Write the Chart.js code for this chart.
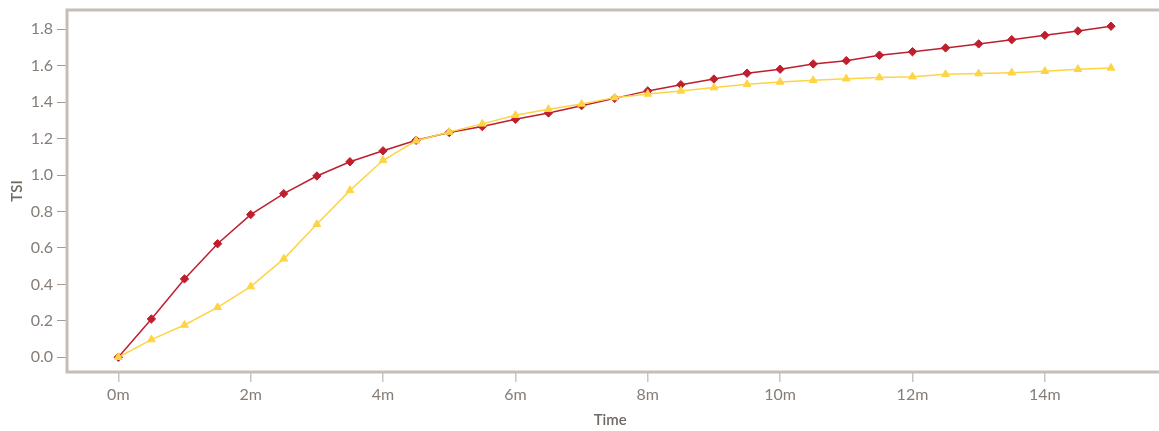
<!DOCTYPE html>
<html>
<head>
<meta charset="utf-8">
<script src="https://cdn.jsdelivr.net/npm/chart.js@4"></script>
<style>
  html, body { margin: 0; padding: 0; background: #ffffff; }
  #wrap { width: 1159px; height: 431px; }
</style>
</head>
<body>
<div id="wrap"><canvas id="c" width="1159" height="431"></canvas></div>
<script>
// ---- data ----
const times = [0, 0.5, 1, 1.5, 2, 2.5, 3, 3.5, 4, 4.5, 5, 5.5, 6, 6.5, 7, 7.5, 8, 8.5, 9, 9.5, 10, 10.5, 11, 11.5, 12, 12.5, 13, 13.5, 14, 14.5, 15];
const redSeries = [0, 0.21, 0.43, 0.623, 0.783, 0.898, 0.995, 1.073, 1.133, 1.191, 1.234, 1.266, 1.306, 1.341, 1.381, 1.421, 1.462, 1.496, 1.527, 1.559, 1.581, 1.610, 1.628, 1.658, 1.677, 1.698, 1.720, 1.743, 1.767, 1.791, 1.817];
const yellowSeries = [0, 0.097, 0.177, 0.274, 0.388, 0.540, 0.730, 0.916, 1.081, 1.188, 1.236, 1.281, 1.328, 1.361, 1.390, 1.425, 1.445, 1.462, 1.480, 1.498, 1.511, 1.520, 1.529, 1.535, 1.540, 1.553, 1.557, 1.562, 1.570, 1.581, 1.588];
const xTickValues = [0, 2, 4, 6, 8, 10, 12, 14];
const yTickValues = [0, 0.2, 0.4, 0.6, 0.8, 1.0, 1.2, 1.4, 1.6, 1.8];
const xTitle = 'Time';
const yTitle = 'TSI';

const RED = '#be1e2d';
const YELLOW = '#fdd446';
const BORDER = '#c6bdb6';
const TICK_TEXT = '#857d77';
const TITLE_TEXT = '#6f6863';

const toPts = arr => arr.map((v, i) => ({ x: times[i], y: v }));

const zeroPad = s => { s.paddingTop = 0; s.paddingBottom = 0; s.paddingLeft = 0; s.paddingRight = 0; };

const frame = {
  id: 'frame',
  beforeDatasetsDraw(chart) {
    const { ctx, chartArea: a } = chart;
    ctx.save();
    ctx.strokeStyle = BORDER;
    ctx.lineWidth = 3;
    ctx.beginPath();
    ctx.moveTo(chart.width + 2, a.top);
    ctx.lineTo(a.left, a.top);
    ctx.lineTo(a.left, a.bottom);
    ctx.lineTo(chart.width + 2, a.bottom);
    ctx.stroke();
    ctx.restore();
  }
};

new Chart(document.getElementById('c'), {
  type: 'line',
  data: {
    datasets: [
      {
        label: 'Yellow',
        data: toPts(yellowSeries),
        borderColor: YELLOW,
        backgroundColor: YELLOW,
        borderWidth: 1.5,
        pointStyle: 'triangle',
        pointRadius: 4.5,
        pointBorderWidth: 1,
        pointBorderColor: YELLOW,
        pointBackgroundColor: YELLOW,
        tension: 0,
        fill: false,
        clip: false
      },
      {
        label: 'Red',
        data: toPts(redSeries),
        borderColor: RED,
        backgroundColor: RED,
        borderWidth: 1.5,
        pointStyle: 'rectRot',
        pointRadius: 4.2,
        pointBorderWidth: 1,
        pointBorderColor: RED,
        pointBackgroundColor: RED,
        tension: 0,
        fill: false,
        clip: false
      }
    ]
  },
  options: {
    responsive: false,
    animation: false,
    devicePixelRatio: 1,
    layout: { padding: { top: 10, right: 0, bottom: 0, left: 0 } },
    plugins: {
      legend: { display: false },
      tooltip: { enabled: false }
    },
    scales: {
      x: {
        type: 'linear',
        min: -0.7755,
        max: 15.642,
        afterFit: s => { s.height = 59; zeroPad(s); },
        afterBuildTicks: axis => { axis.ticks = xTickValues.map(v => ({ value: v })); },
        border: { display: false },
        grid: {
          drawOnChartArea: false,
          drawTicks: true,
          tickLength: 10,
          color: '#cbc3bd',
          lineWidth: 1.5
        },
        ticks: {
          padding: 3,
          color: TICK_TEXT,
          font: { family: 'Lato', size: 16 },
          maxRotation: 0,
          callback: v => v + 'm'
        },
        title: {
          display: true,
          text: xTitle,
          color: TITLE_TEXT,
          font: { family: 'Lato', size: 15, weight: '600' },
          padding: { top: 0, bottom: 2 }
        }
      },
      y: {
        type: 'linear',
        min: -0.081,
        max: 1.906,
        afterFit: s => { s.width = 67; zeroPad(s); },
        afterBuildTicks: axis => { axis.ticks = yTickValues.map(v => ({ value: v })); },
        border: { display: false },
        grid: {
          drawOnChartArea: false,
          drawTicks: true,
          tickLength: 10,
          color: '#a49c96',
          lineWidth: 1
        },
        ticks: {
          padding: 4,
          color: TICK_TEXT,
          font: { family: 'Lato', size: 16 },
          callback: v => Number(v).toFixed(1)
        },
        title: {
          display: true,
          text: yTitle,
          color: TITLE_TEXT,
          font: { family: 'Lato', size: 15, weight: '600' },
          padding: { top: 8, bottom: 0 }
        }
      }
    }
  },
  plugins: [frame]
});
</script>
</body>
</html>
